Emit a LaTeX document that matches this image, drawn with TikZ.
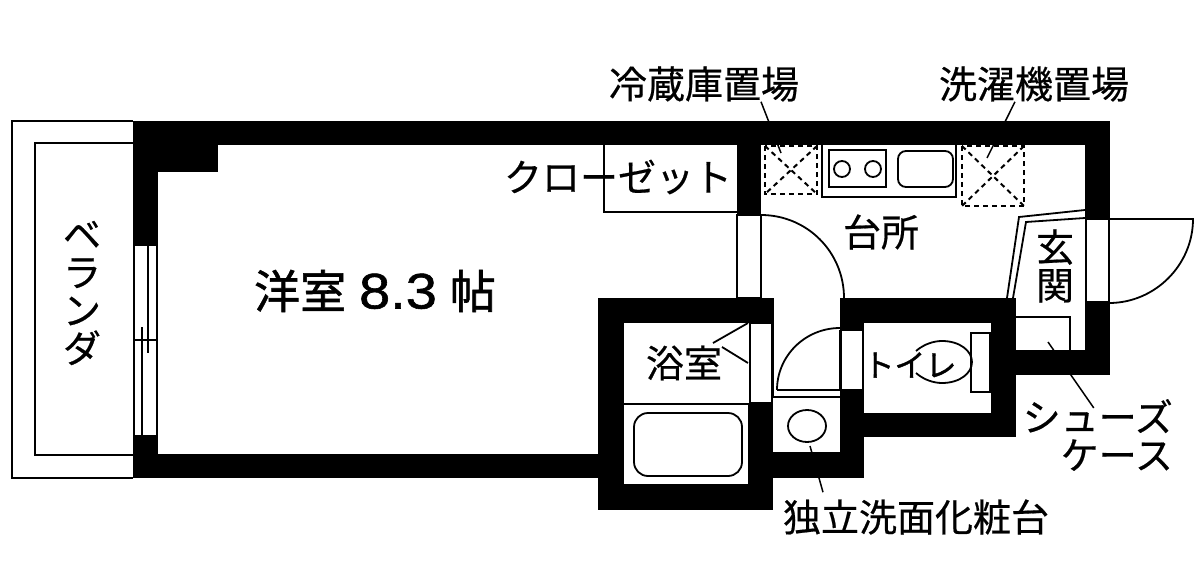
\documentclass[tikz,border=0pt]{standalone}
\usepackage{fontspec}
\setmainfont[FakeBold=0.5]{Noto Sans CJK JP}
\newfontfamily\heavyfont[FakeBold=1.2]{Noto Sans CJK JP}
\newfontfamily\digitfont[FakeStretch=1.12,FakeBold=1.2]{Liberation Sans}
\usetikzlibrary{positioning}
\tikzset{
  wall/.style={fill=black},
  thinline/.style={draw=black,line width=1.8pt},
  hairline/.style={draw=black,line width=1.5pt},
  dashline/.style={draw=black,line width=2pt,dash pattern=on 5pt off 4pt},
  roomtext/.style={inner sep=0pt,align=center,font=\fontsize{38}{38}\selectfont}
}
\begin{document}
\begin{tikzpicture}[x=1pt,y=-1pt]
  \useasboundingbox (0,0) rectangle (1200,570);
  \fill[white] (0,0) rectangle (1200,570);
  % balcony
  \draw[thinline] (133,121) -- (12,121) -- (12,478) -- (133,478);
  \draw[thinline] (133,143) -- (35,143) -- (35,455) -- (133,455);
  % labels
  \node[roomtext] (fridgelabel) at (704,84) {冷蔵庫置場};
  \node[roomtext] (washerlabel) at (1034,84) {洗濯機置場};
  \node[roomtext] (closetlabel) at (618,177) {クローゼット};
  \node[roomtext] (kitchenlabel) at (881,232) {台所};
  \node[roomtext] (entrylabel) at (1055,266) {玄\\関};
  \node[roomtext] (balconylabel) at (82,293) {ベ\\ラ\\ン\\ダ};
  \node[roomtext,font=\heavyfont\fontsize{46}{46}\selectfont] (roomlabel) at (375,291) {洋室\hspace{13pt}{\digitfont\fontsize{50}{50}\selectfont 8.3}\hspace{13pt}帖};
  \node[roomtext] (bathlabel) at (684,363) {浴室};
  \node[roomtext,font=\heavyfont\fontsize{31}{31}\selectfont] (toiletlabel) at (910,365) {トイレ};
  \node[roomtext,align=right,anchor=east] (shoeslabel) at (1173,435) {シューズ\\ケース};
  \node[roomtext] (basinlabel) at (916,517) {独立洗面化粧台};
  % leader ends
  \coordinate (fridgeend) at (781,153);
  \coordinate (washerend) at (987,158);
  \coordinate (shoesend) at (1048,342);
  \coordinate (basinend) at (810,446);
  \draw[hairline] ([xshift=57pt]fridgelabel.south) -- (fridgeend);
  \draw[hairline] ([xshift=-19pt]washerlabel.south) -- (washerend);
  \draw[hairline] ([xshift=-4pt,yshift=-9pt]shoeslabel.north) -- (shoesend);
  \draw[hairline] ([xshift=-93pt,yshift=7pt]basinlabel.north) -- (basinend);
  % walls
  \fill[wall] (133,121) rectangle (1110,145);
  \fill[wall] (133,121) rectangle (158,245);
  \fill[wall] (133,145) rectangle (218,172);
  \fill[wall] (133,436) rectangle (158,478);
  \fill[wall] (133,454) rectangle (598,478);
  \fill[wall] (737,145) rectangle (761,215);
  \fill[wall] (598,298) rectangle (773,323);
  \fill[wall] (598,298) rectangle (624,510);
  \fill[wall] (598,484) rectangle (773,510);
  \fill[wall] (623,403) rectangle (750,405);
  \fill[wall] (748,403) rectangle (773,510);
  \fill[wall] (773,452) rectangle (864,478);
  \fill[wall] (840,390) rectangle (864,478);
  \fill[wall] (840,298) rectangle (864,330);
  \fill[wall] (840,298) rectangle (1016,323);
  \fill[wall] (864,413) rectangle (1016,437);
  \fill[wall] (991,298) rectangle (1016,437);
  \fill[wall] (1016,350) rectangle (1110,375);
  \fill[wall] (1085,121) rectangle (1110,219);
  \fill[wall] (1085,302) rectangle (1110,375);
  % window
  \draw[thinline] (134,245) rectangle (157,436);
  \draw[thinline] (148,245) -- (148,353);
  \draw[thinline] (142,327) -- (142,436);
  \draw[thinline] (134,340) -- (157,340);
  % closet
  \draw[thinline] (604,145) -- (604,212) -- (737,212);
  % room door
  \draw[thinline] (737,215) rectangle (761,298);
  \draw[thinline] (761,215) .. controls (807,215) and (844,252) .. (844,298);
  % fridge and washer
  \draw[dashline] (765,146) rectangle (817,194);
  \draw[dashline] (765,146) -- (817,194) (817,146) -- (765,194);
  \draw[dashline] (962,146) rectangle (1024,206);
  \draw[dashline] (962,146) -- (1024,206) (1024,146) -- (962,206);
  % kitchen counter
  \draw[thinline] (822,145) -- (822,197) -- (956,197) -- (956,145);
  \draw[thinline] (829,150) rectangle (886,187);
  \draw[thinline] (842,169) circle (8);
  \draw[thinline] (873,169) circle (8);
  \draw[thinline,rounded corners=8pt] (898,151) rectangle (953,187);
  % entrance
  \draw[thinline] (1007,298) -- (1019,217) -- (1085,210);
  \draw[thinline] (1013,298) -- (1026,222) -- (1085,218);
  \draw[thinline] (1086,219) rectangle (1109,302);
  \draw[thinline] (1109,219) -- (1193,219) .. controls (1193,265) and (1155,303) .. (1109,303);
  % shoe case
  \draw[thinline] (1016,317) -- (1070,317) -- (1070,350);
  % bath
  \draw[thinline] (750,323) rectangle (772,403);
  \draw[thinline] (748,323) -- (713,343);
  \draw[thinline] (722,347) -- (748,363);
  \draw[thinline,rounded corners=14pt] (634,413) rectangle (742,476);
  % washroom door
  \draw[thinline] (773,298) -- (773,397) -- (840,397);
  \draw[thinline] (840,330) -- (840,390) -- (777,390);
  \draw[thinline] (777,390) .. controls (777,356) and (805,328) .. (840,328);
  \draw[thinline] (841,330) rectangle (863,390);
  % basin
  \draw[thinline] (807,426) ellipse (19 and 16);
  % toilet
  \draw[thinline] (971,333) rectangle (990,392);
  \draw[thinline] (916,351) .. controls (924,344) and (934,341) .. (942,341) .. controls (960,341) and (972,351) .. (972,362) .. controls (972,373) and (960,383) .. (942,383) .. controls (934,383) and (924,380) .. (916,373);
\end{tikzpicture}
\end{document}
